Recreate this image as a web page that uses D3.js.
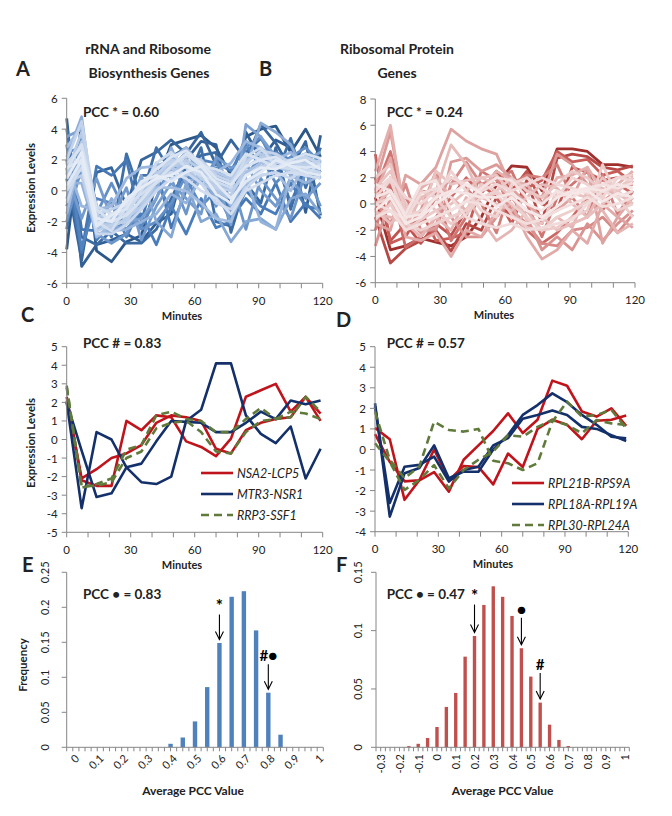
<!DOCTYPE html>
<html><head><meta charset="utf-8">
<script src="https://cdn.jsdelivr.net/npm/d3@7"></script>
<style>body{margin:0;background:#fff} text{font-family:Lato,"Open Sans",sans-serif;fill:#222}</style>
</head><body><svg id="c" width="672" height="816"></svg>
<script>
// ---------- DATA ----------
const minutes = [0,7,14,21,28,35,42,49,56,63,70,77,84,91,98,105,112,119];
const timeTicks = [0,10,20,30,40,50,60,70,80,90,100,110,120];
const timeLabels = [0,30,60,90,120];

// Panel A: rRNA and ribosome biosynthesis genes (dark -> light)
const rrnaLines = [
 [-3.8,4.5,-3.9,-4.6,-3.3,-2.9,0.5,3.0,3.3,3.6,2.8,1.0,3.5,4.0,4.2,2.5,4.0,2.2],
 [4.7,-4.9,-3.5,-3.2,-2.8,-3.3,-2.1,-1.5,2.0,3.2,3.0,-1.3,3.8,2.0,3.3,2.8,-1.4,3.6],
 [0.8,-4.5,1.2,1.5,-1.0,2.0,2.5,3.3,2.4,3.8,1.7,3.3,2.0,4.3,3.1,1.4,3.2,-1.6],
 [2.0,-3.0,-3.5,-2.6,-3.4,-3.4,-2.5,-0.5,1.5,2.3,2.5,-2.7,0.5,-0.8,2.8,-1.2,2.0,1.5],
 [-2.5,3.5,-1.0,-3.0,2.4,-0.5,2.8,1.2,0.5,2.8,-2.0,-2.3,3.2,2.5,1.0,3.4,0.2,2.8],
 [4.0,-2.5,-2.6,-1.5,-2.0,1.0,1.0,2.2,2.8,1.5,1.0,0.5,2.5,3.4,2.0,-0.8,1.5,0.8],
 [1.5,-4.0,1.6,1.0,2.0,-2.0,1.5,-2.4,0.0,1.0,1.5,-1.8,-0.5,-1.5,0.5,-2.0,-0.8,-1.8],
 [-1.0,2.0,-3.2,-2.0,-2.5,-1.5,-3.5,-1.0,-2.8,-0.5,-2.4,-2.0,0.0,-1.0,-1.5,0.5,-1.0,-1.2],
 [3.0,-3.8,-0.5,-0.8,-3.0,-1.0,0.5,-1.2,2.2,2.0,1.8,1.3,3.0,1.5,2.5,2.0,2.4,1.2],
 [0.0,1.0,-2.0,-2.7,-1.2,-2.3,-0.5,1.8,0.8,-1.0,0.0,-2.0,1.0,2.2,0.5,1.5,1.0,2.0],
 [2.5,2.8,-1.5,0.5,-1.5,-2.5,-2.0,-0.8,1.0,0.5,2.0,0.2,2.8,3.5,1.5,2.2,2.8,1.8],
 [-2.0,1.5,-2.8,-3.4,-2.8,-0.5,1.8,0.8,-1.5,1.8,-1.0,0.8,-2.5,0.8,-0.5,-1.8,1.2,-1.0],
 [1.2,-1.8,0.8,-1.8,0.2,-3.2,-1.0,0.5,-0.5,-1.5,2.2,1.5,1.8,0.0,-1.0,0.8,-0.5,0.5],
 [3.5,4.0,-1.8,-2.2,-2.0,-1.8,-0.5,1.5,2.5,1.2,0.8,-2.2,4.3,3.5,2.2,1.0,2.0,2.5],
 [-0.5,3.0,-2.2,-2.5,-2.2,1.0,-2.0,-3.0,0.5,-2.0,-1.5,-3.3,-2.0,-1.8,-2.5,-0.5,-0.2,-1.5],
 [2.2,4.8,-2.5,-0.5,-1.8,0.5,0.0,2.8,0.5,1.0,-0.5,0.5,1.5,4.4,3.8,3.0,1.0,1.5],
 [0.5,0.5,-2.8,-2.6,-2.5,-2.0,-1.5,-0.2,-0.8,0.8,0.5,-1.0,0.8,-2.0,-2.5,1.0,0.5,1.0],
 [1.8,-1.0,-1.2,-1.0,0.8,1.5,1.6,2.0,2.8,1.6,1.2,1.8,3.2,2.8,2.0,2.5,1.5,2.0],
 [-1.5,2.5,-3.0,-2.2,-1.0,-1.2,0.2,0.2,0.0,-0.8,-1.8,-2.0,0.5,1.0,1.2,0.0,1.8,1.6],
 [2.8,4.2,-2.0,-2.3,-1.4,-0.8,1.0,1.2,1.8,1.0,0.5,0.0,1.2,1.8,2.0,1.6,1.8,1.4],
 [0.2,1.8,-2.4,-2.0,-1.5,0.0,0.8,1.8,1.5,0.5,0.0,-0.5,0.5,1.4,1.6,1.2,2.2,1.8],
 [1.0,3.2,-1.6,-1.8,-1.0,-0.5,1.2,1.5,1.0,1.5,1.2,0.8,2.0,2.4,1.8,1.9,1.2,1.2],
 [1.2,3.8,-2.0,-2.4,-1.8,-1.0,0.5,1.5,2.0,1.4,0.2,-0.3,1.5,2.2,2.0,1.5,1.8,1.5],
 [0.5,1.0,-2.6,-2.2,-2.0,-0.5,1.0,2.0,1.8,0.8,0.2,0.0,1.0,1.6,1.8,2.0,1.6,2.0],
 [2.0,4.5,-1.5,-1.2,-0.8,0.2,1.5,1.8,2.2,2.0,1.0,0.6,1.8,2.6,2.4,1.8,2.2,1.7],
 [-0.8,2.2,-2.8,-2.8,-2.2,-1.2,0.0,0.8,1.2,0.5,-0.8,-1.2,0.2,1.0,1.2,0.8,1.4,1.2],
 [1.8,2.8,-1.0,-1.5,-1.5,0.0,1.8,2.5,1.5,1.0,0.6,0.2,2.2,2.8,1.6,1.4,1.0,1.8],
 [0.0,1.5,-2.0,-2.6,-1.0,-0.2,0.5,1.2,0.8,0.0,-0.5,-1.5,0.0,0.5,1.0,1.2,1.0,0.8],
 [1.4,3.0,-1.2,-2.0,-1.6,-0.6,0.6,1.6,2.4,1.6,1.4,1.0,2.4,2.0,1.5,2.0,2.4,2.1],
 [1.5,2.0,-2.2,-1.5,-1.2,0.5,1.4,2.2,2.6,1.8,0.8,0.4,1.6,2.0,2.2,1.6,1.5,1.6],
 [0.3,2.0,-2.3,-1.6,-0.8,0.6,1.0,0.6,1.2,1.6,0.5,-0.5,0.6,1.2,2.0,1.6,1.2,1.0],
 [0.8,2.5,-1.8,-2.0,-0.5,0.2,0.8,1.0,1.6,1.2,-0.2,-0.8,1.0,1.5,1.4,1.8,2.0,1.4]
];
// Panel B: ribosomal protein genes (dark -> light)
const rpLines = [
 [0.5,-3.5,-3.2,-2.6,-2.9,-3.2,-2.5,-1.0,1.5,2.9,2.8,1.0,4.2,4.2,4.0,3.0,3.0,2.8],
 [-1.0,-4.5,-3.4,-2.8,-2.0,-3.6,-1.5,-2.0,0.5,-1.0,1.8,-1.5,3.5,3.8,3.6,2.8,2.6,2.9],
 [2.0,-2.8,-1.5,-3.0,-1.5,-2.4,-0.5,1.0,2.5,1.0,2.5,0.0,-0.5,2.8,2.4,1.8,2.0,2.2],
 [3.8,-3.0,-2.5,-0.5,-2.8,-2.6,-2.2,1.5,0.5,-1.5,1.2,1.8,4.0,3.2,3.4,2.2,2.5,1.6],
 [-0.5,1.5,-3.3,-2.5,-1.0,0.5,2.0,0.8,2.2,-0.8,-2.0,-3.0,-2.2,-1.0,0.5,-0.5,1.5,0.8],
 [1.0,4.0,-0.5,1.0,0.8,-2.8,-1.0,2.5,1.8,2.5,0.0,-2.5,0.5,1.5,2.5,0.2,1.0,2.0],
 [-2.0,2.0,0.5,-1.5,0.5,2.0,1.2,0.0,-2.2,1.5,2.2,2.0,3.0,0.5,-1.0,2.2,-0.8,1.0],
 [0.2,-1.5,1.5,-2.0,-2.0,1.5,3.2,1.5,2.0,-0.5,-1.5,-3.0,-3.2,-2.0,-1.8,-1.0,-2.2,-0.8],
 [-3.2,0.5,-2.0,-0.5,2.5,-1.0,-2.5,-2.5,-1.0,0.5,-1.0,-3.5,-2.5,-3.5,-1.5,-2.8,-1.5,-0.5],
 [1.5,5.5,-1.0,-2.2,-1.8,3.2,3.5,2.5,3.0,2.0,1.0,0.5,3.8,3.0,1.5,0.8,1.2,1.5],
 [-1.5,-2.0,2.2,1.5,2.8,5.7,4.8,4.2,3.8,1.2,0.0,-1.0,-0.5,0.5,2.8,-3.0,-1.0,-1.8],
 [0.8,3.5,-2.5,-2.8,-2.2,-4.0,-2.0,-2.5,-0.5,0.0,-2.5,-4.2,-3.5,-2.0,-3.0,0.0,-1.0,0.5],
 [2.5,6.0,-1.2,1.2,2.0,0.5,-0.5,1.0,2.5,1.8,1.5,0.0,2.0,2.2,2.8,1.0,1.5,2.5],
 [-0.8,-1.0,-1.5,-2.5,-1.0,-2.0,0.5,-1.2,-2.8,-2.0,-0.5,-2.0,-1.0,-1.8,1.0,-0.5,-2.2,-1.5],
 [0.0,1.0,-1.8,0.5,1.0,4.5,3.0,0.5,0.0,-0.5,0.5,1.5,1.2,0.0,-1.0,1.2,0.8,0.0],
 [-0.5,-1.5,-0.5,0.5,-0.5,0.0,1.0,2.0,1.5,0.5,-0.5,-1.0,-2.0,-1.5,-1.0,0.0,1.0,0.0],
 [1.2,2.5,0.0,-1.0,2.5,1.5,1.8,2.0,2.2,0.8,-1.2,-1.5,1.0,0.8,0.5,2.0,1.0,1.8],
 [2.0,3.0,-0.5,1.0,0.5,-1.0,-0.5,1.5,1.0,2.0,1.0,0.5,1.5,2.5,2.0,1.0,1.2,2.0],
 [-1.2,0.0,-2.0,-1.2,-0.5,-1.5,-0.8,0.5,0.8,-0.8,-1.8,-2.0,-1.8,-1.0,-0.5,3.0,0.5,-1.0],
 [0.0,0.5,-1.5,-2.0,-1.5,-1.0,-0.5,0.5,1.0,0.0,-1.0,-2.0,-1.0,-0.5,0.2,0.5,-0.5,0.0],
 [0.5,1.8,-1.0,-0.5,0.5,2.5,1.0,-0.5,-1.0,1.5,2.0,1.2,0.5,2.0,1.5,0.5,2.0,2.2],
 [1.0,2.0,0.5,0.0,1.0,2.0,1.5,1.0,1.5,1.0,1.5,2.0,1.5,1.2,0.8,1.5,2.0,1.8],
 [0.0,-0.5,-1.2,0.8,1.2,0.5,-1.0,-1.5,-1.8,-1.5,-2.0,-1.8,-1.5,-1.2,0.0,1.0,0.5,1.0],
 [-1.0,-0.5,-2.0,-1.5,-1.0,-0.5,0.2,0.0,-0.5,-1.0,-1.5,-1.2,-0.5,0.0,0.5,-0.2,0.0,0.5],
 [1.5,1.0,-0.8,1.5,1.8,-0.5,0.2,1.2,2.0,1.8,0.5,0.0,1.0,0.5,1.2,1.5,1.2,1.6],
 [0.5,1.0,-1.0,-0.8,0.5,1.0,0.8,0.5,0.5,0.8,0.0,-0.5,0.5,1.0,1.2,1.0,1.5,1.2],
 [-0.5,0.5,-1.5,-1.0,0.0,0.8,1.5,0.8,-0.2,0.5,-0.5,-1.0,-0.2,0.8,1.0,0.2,0.8,0.5]
];

// Panel C gene pairs
const cNames = ["NSA2-LCP5","MTR3-NSR1","RRP3-SSF1"];
const nsa2 = [2.1,-2.2,-2.5,-2.5,1.0,0.5,1.3,1.2,-0.1,-0.4,-0.9,0.05,2.3,2.65,3.0,1.5,2.3,1.0];
const lcp5 = [2.3,-2.1,-1.6,-1.0,-0.75,-0.3,0.9,1.3,1.2,1.0,-0.5,-0.75,0.5,0.9,1.1,1.2,2.3,1.4];
const mtr3 = [2.0,-3.7,0.4,0.0,-1.5,-2.3,-2.4,-2.0,1.0,1.6,4.1,4.1,1.3,0.3,-0.2,0.7,-2.1,-0.5];
const nsr1 = [2.0,-0.6,-3.1,-2.9,-1.5,-1.3,-0.1,1.0,0.95,0.9,0.4,0.4,0.9,1.5,1.1,2.1,1.9,2.1];
const rrp3 = [2.9,-2.6,-2.4,-2.1,-0.55,-0.3,1.3,1.5,1.1,1.0,0.4,0.4,1.1,1.7,1.1,1.2,2.3,1.5];
const ssf1 = [2.8,-2.5,-2.5,-2.3,-1.0,-0.65,0.6,0.9,1.0,0.4,-0.65,-0.75,0.4,1.0,1.1,1.5,1.4,1.1];

// Panel D gene pairs
const dNames = ["RPL21B-RPS9A","RPL18A-RPL19A","RPL30-RPL24A"];
const rpl21b = [1.05,0.5,-2.45,-1.5,-1.1,-2.05,-0.5,0.2,0.9,1.76,0.8,1.45,3.35,3.1,1.85,1.6,2.0,1.15];
const rps9a  = [0.75,-0.6,-1.55,-1.5,0.0,-1.5,-0.8,-0.85,-1.7,-0.2,-0.85,1.0,1.45,1.2,0.5,1.4,1.45,1.65];
const rpl18a = [2.25,-3.27,-1.16,-0.9,0.2,-1.4,-1.08,-1.08,0.0,0.7,1.68,2.16,2.73,2.3,1.68,1.2,0.62,0.54];
const rpl19a = [2.1,-2.6,-0.84,-0.75,-0.35,-1.56,-1.0,-0.84,0.2,0.55,1.5,1.68,1.9,1.68,1.1,1.0,0.7,0.41];
const rpl30  = [1.84,-0.5,-1.4,-0.83,1.35,0.95,0.87,1.0,-0.55,-0.67,-1.0,-0.67,1.35,2.33,1.6,1.68,1.92,1.03];
const rpl24a = [0.3,-0.6,-1.97,-1.48,-0.76,-1.9,-1.0,-0.5,-0.1,0.7,0.62,1.1,1.43,1.19,0.79,1.43,1.27,1.19];

// Panel E histogram
const eBins = ["0","0.05","0.1","0.15","0.2","0.25","0.3","0.35","0.4","0.45","0.5","0.55","0.6","0.65","0.7","0.75","0.8","0.85","0.9","0.95","1"];
const eFreq = [0,0,0,0,0,0,0,0,0.005,0.014,0.037,0.086,0.149,0.215,0.223,0.167,0.078,0.018,0,0,0];
const eYTicks = [0,0.05,0.1,0.15,0.2,0.25];
// Panel F histogram
const fBins = ["-0.3","-0.25","-0.2","-0.15","-0.1","-0.05","0","0.05","0.1","0.15","0.2","0.25","0.3","0.35","0.4","0.45","0.5","0.55","0.6","0.65","0.7","0.75","0.8","0.85","0.9","0.95","1"];
const fFreq = [0,0,0,0.001,0.003,0.008,0.0174,0.0346,0.0466,0.0777,0.0954,0.122,0.138,0.129,0.1126,0.0849,0.0606,0.0383,0.0194,0.0063,0.0011,0,0,0,0,0,0];
const fYTicks = [0,0.05,0.1,0.15];

// ---------- DRAWING ----------
const svg = d3.select("#c");
const axisCol = "#868686";

function txt(x, y, s, o = {}) {
  const t = svg.append("text").attr("x", x).attr("y", y).text(s)
    .attr("font-size", o.size || 11.5)
    .attr("font-weight", o.weight || "normal")
    .attr("text-anchor", o.anchor || "start")
    .attr("dominant-baseline", o.base || "auto");
  if (o.italic) t.attr("font-style", "italic");
  if (o.rotate !== undefined) t.attr("transform", `rotate(${o.rotate},${x},${y})`);
  if (o.fill) t.style("fill", o.fill);
  return t;
}

function timeAxes(x, y, yTicks, minutesX) {
  const [x0, x1] = x.range(), [yb, yt] = y.range();
  const g = svg.append("g");
  g.append("line").attr("x1", x0).attr("x2", x0).attr("y1", yt).attr("y2", yb).attr("stroke", axisCol);
  g.append("line").attr("x1", x0).attr("x2", x1).attr("y1", yb).attr("y2", yb).attr("stroke", axisCol);
  yTicks.forEach(v => {
    g.append("line").attr("x1", x0 - 5).attr("x2", x0).attr("y1", y(v)).attr("y2", y(v)).attr("stroke", axisCol);
    txt(x0 - 9, y(v), String(v), {anchor: "end", base: "central", size: 11.5});
  });
  timeTicks.forEach(v => {
    g.append("line").attr("x1", x(v)).attr("x2", x(v)).attr("y1", yb).attr("y2", yb + 5).attr("stroke", axisCol);
  });
  timeLabels.forEach(v => txt(x(v), yb + 17, v, {anchor: "middle", base: "central", size: 11.5}));
  txt(minutesX, yb + 32, "Minutes", {anchor: "middle", base: "central", weight: "bold", size: 11});
}

function linePanel(x, y, lines, colors, gamma, width) {
  const gen = d3.line().x((d, i) => x(minutes[i])).y(d => y(d));
  const g = svg.append("g");
  lines.forEach((l, i) => {
    g.append("path").attr("d", gen(l)).attr("fill", "none")
      .attr("stroke", colors(Math.pow(i / (lines.length - 1), gamma))).attr("stroke-width", width)
      .attr("stroke-linejoin", "round");
  });
}

// Titles & panel letters
txt(148, 48, "rRNA and Ribosome", {anchor: "middle", base: "central", weight: "bold", size: 14});
txt(149, 72, "Biosynthesis Genes", {anchor: "middle", base: "central", weight: "bold", size: 14});
txt(397, 48, "Ribosomal Protein", {anchor: "middle", base: "central", weight: "bold", size: 14});
txt(397, 72, "Genes", {anchor: "middle", base: "central", weight: "bold", size: 14});
[["A",16,76],["B",259,76],["C",21,322],["D",336,327],["E",22,572],["F",336,572]]
  .forEach(([s, x, y]) => txt(x, y, s, {size: 20, weight: "bold"}));

// Panel A
const xA = d3.scaleLinear([0, 120], [66.7, 322.7]);
const yA = d3.scaleLinear([-6, 6], [283.3, 98.3]);
linePanel(xA, yA, rrnaLines, d3.piecewise(d3.interpolateRgb, ["#2b5889", "#4a7dbb", "#a3bde1", "#e6ecf6"]), 0.75, 2.8);
timeAxes(xA, yA, [-6,-4,-2,0,2,4,6], 182);
txt(30, 188, "Expression Levels", {anchor: "middle", base: "central", weight: "bold", size: 11.5, rotate: -90});
txt(83, 112, "PCC * = 0.60", {base: "central", weight: "bold", size: 13.5});

// Panel B
const xB = d3.scaleLinear([0, 120], [375.3, 635]);
const yB = d3.scaleLinear([-6, 8], [282.7, 99]);
linePanel(xB, yB, rpLines, d3.piecewise(d3.interpolateRgb, ["#a0302e", "#c65a57", "#e2aeac", "#f6e8e8"]), 0.5, 2.8);
timeAxes(xB, yB, [-6,-4,-2,0,2,4,6,8], 494);
txt(386.7, 112, "PCC * = 0.24", {base: "central", weight: "bold", size: 13.5});

// Panels C, D
const red = "#c0141c", navy = "#14306a", olive = "#5f7a3a";
function pairPanel(x, y, series, names, legX, legY) {
  const gen = d3.line().x((d, i) => x(minutes[i])).y(d => y(d));
  const styles = [[red, null], [navy, null], [olive, "8,5"]];
  series.forEach((pair, k) => pair.forEach(s => {
    const p = svg.append("path").attr("d", gen(s)).attr("fill", "none")
      .attr("stroke", styles[k][0]).attr("stroke-width", 2.6).attr("stroke-linejoin", "round");
    if (styles[k][1]) p.attr("stroke-dasharray", styles[k][1]);
  }));
  names.forEach((n, k) => {
    const ly = legY + k * 21;
    const l = svg.append("line").attr("x1", legX).attr("x2", legX + 32).attr("y1", ly).attr("y2", ly)
      .attr("stroke", styles[k][0]).attr("stroke-width", 2.6);
    if (styles[k][1]) l.attr("stroke-dasharray", styles[k][1]);
    txt(legX + 36, ly, n, {base: "central", italic: true, size: 12.5});
  });
}
const xC = d3.scaleLinear([0, 120], [66.7, 322.7]);
const yC = d3.scaleLinear([-5, 5], [532.3, 346.7]);
pairPanel(xC, yC, [[nsa2, lcp5], [mtr3, nsr1], [rrp3, ssf1]], cNames, 201, 473);
timeAxes(xC, yC, [-5,-4,-3,-2,-1,0,1,2,3,4,5], 182);
txt(30, 443, "Expression Levels", {anchor: "middle", base: "central", weight: "bold", size: 11.5, rotate: -90});
txt(83, 343, "PCC # = 0.83", {base: "central", weight: "bold", size: 13.5});

const xD = d3.scaleLinear([0, 120], [375, 628.3]);
const yD = d3.scaleLinear([-4, 5], [531.7, 346.7]);
pairPanel(xD, yD, [[rpl21b, rps9a], [rpl18a, rpl19a], [rpl30, rpl24a]], dNames, 512, 483);
timeAxes(xD, yD, [-4,-3,-2,-1,0,1,2,3,4,5], 493);
txt(386.7, 343, "PCC # = 0.57", {base: "central", weight: "bold", size: 13.5});

// Panels E, F
function histPanel(bins, freq, range, yMax, yTicks, color, labelRot, yLabX, annots, titleX) {
  const x = d3.scaleBand(bins, range).paddingInner(0.64).paddingOuter(0.32);
  const y = d3.scaleLinear([0, yMax], [747.3, 572.3]);
  const g = svg.append("g");
  g.selectAll("rect").data(bins).join("rect")
    .attr("x", d => x(d)).attr("width", x.bandwidth())
    .attr("y", (d, i) => y(freq[i])).attr("height", (d, i) => y(0) - y(freq[i]))
    .attr("fill", color);
  const [x0, x1] = range;
  g.append("line").attr("x1", x0).attr("x2", x0).attr("y1", y(yMax)).attr("y2", y(0)).attr("stroke", axisCol);
  g.append("line").attr("x1", x0).attr("x2", x1).attr("y1", y(0)).attr("y2", y(0)).attr("stroke", axisCol);
  const half = x.step() / 2;
  d3.range(bins.length * 2 + 1).forEach(k => {
    g.append("line").attr("x1", x0 + k * half).attr("x2", x0 + k * half)
      .attr("y1", y(0)).attr("y2", y(0) + 4).attr("stroke", axisCol);
  });
  yTicks.forEach(v => {
    g.append("line").attr("x1", x0 - 5).attr("x2", x0).attr("y1", y(v)).attr("y2", y(v)).attr("stroke", axisCol);
    txt(yLabX, y(v), String(v), {anchor: "middle", base: "central", size: 11, rotate: -90});
  });
  bins.forEach((b, i) => {
    if (i % 2) return;
    const cx = x(b) + x.bandwidth() / 2;
    if (labelRot === -45) txt(cx + 4, 756, b, {anchor: "end", base: "central", size: 11, rotate: -45});
    else txt(cx, 754, b, {anchor: "end", base: "central", size: 11, rotate: -90});
  });
  txt(titleX, 790, "Average PCC Value", {anchor: "middle", base: "central", weight: "bold", size: 12});
  annots.forEach(a => {
    const i = bins.indexOf(a.bin);
    const cx = x(a.bin) + x.bandwidth() / 2;
    const yEnd = y(freq[i]) - 3.5, yStart = yEnd - a.len;
    g.append("line").attr("x1", cx).attr("x2", cx).attr("y1", yStart).attr("y2", yEnd).attr("stroke", "#000").attr("stroke-width", 1.1);
    g.append("polyline").attr("points", `${cx - 4},${yEnd - 8} ${cx},${yEnd} ${cx + 4},${yEnd - 8}`)
      .attr("fill", "none").attr("stroke", "#000").attr("stroke-width", 1.1);
    txt(cx + (a.dx || 0), yStart - 9, a.label, {anchor: "middle", base: "central", weight: "bold", size: a.size || 15, fill: "#000"});
  });
}
histPanel(eBins, eFreq, [66.7, 323.3], 0.25, eYTicks, "#4f81bd", -45, 45,
  [{bin: "0.6", label: "*", len: 25, size: 17}, {bin: "0.8", label: "#●", len: 25, size: 15}], 193);
histPanel(fBins, fFreq, [376, 629.3], 0.15, fYTicks, "#c0504d", -90, 357.7,
  [{bin: "0.2", label: "*", len: 28, size: 17}, {bin: "0.45", label: "●", len: 27, size: 15}, {bin: "0.55", label: "#", len: 26, size: 15}], 502.7);
txt(22, 665, "Frequency", {anchor: "middle", base: "central", weight: "bold", size: 11.5, rotate: -90});
txt(83, 594, "PCC • = 0.83", {base: "central", weight: "bold", size: 13.5});
txt(386.7, 594, "PCC • = 0.47", {base: "central", weight: "bold", size: 13.5});
</script></body></html>
